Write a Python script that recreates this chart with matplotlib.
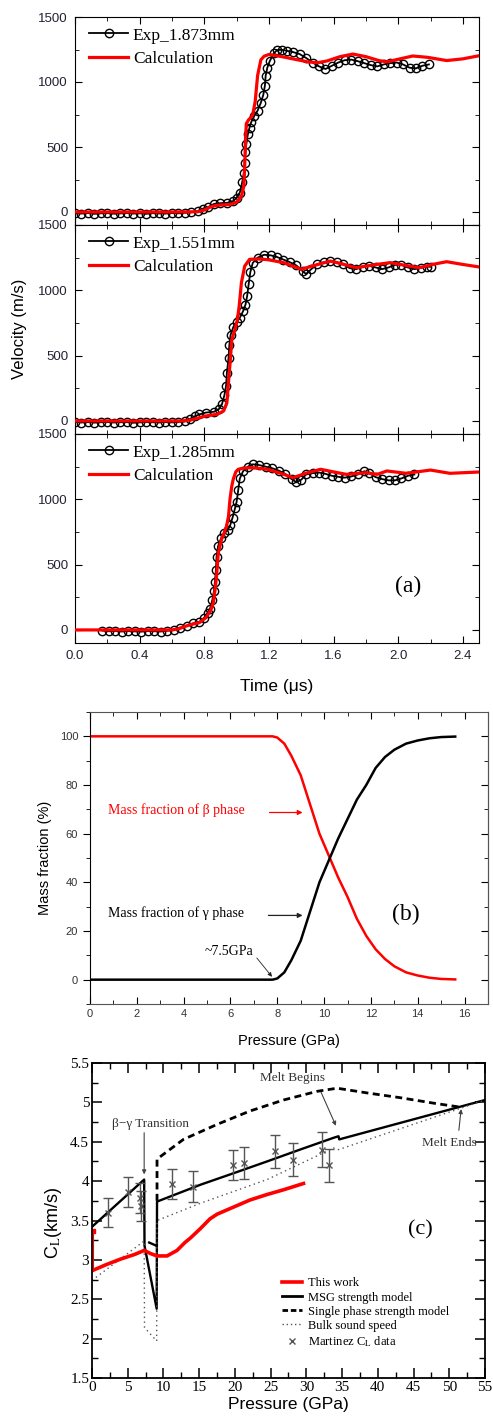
import numpy as np
import matplotlib
matplotlib.use('Agg')
import matplotlib.pyplot as plt
from matplotlib.ticker import MultipleLocator
from matplotlib.lines import Line2D

SANS = 'Liberation Sans'
SERIF = 'Liberation Serif'
plt.rcParams['font.family'] = SANS
plt.rcParams['mathtext.fontset'] = 'stix'

# ---- panel (a): free surface velocity ----
exp_labels = ['Exp_1.873mm', 'Exp_1.551mm', 'Exp_1.285mm']

t_exp1 = [0.00, 0.04, 0.08, 0.12, 0.16, 0.20, 0.24, 0.28, 0.32, 0.36, 0.40, 0.44, 0.48, 0.52, 0.56, 0.60, 0.64, 0.68, 0.72,
          0.76, 0.79, 0.82, 0.86, 0.90, 0.94, 0.98, 1.00, 1.02, 1.035, 1.045, 1.05, 1.055, 1.06, 1.07, 1.08, 1.09, 1.11,
          1.13, 1.15, 1.165, 1.175, 1.18, 1.19, 1.205, 1.23, 1.25, 1.28, 1.31, 1.35, 1.39, 1.43, 1.47, 1.51, 1.55, 1.59,
          1.63, 1.67, 1.71, 1.75, 1.79, 1.83, 1.87, 1.91, 1.95, 1.99, 2.03, 2.07, 2.11, 2.15, 2.19]
v_exp1 = [-10, -12, -8, -14, -10, -9, -13, -11, -8, -12, -10, -14, -9, -11, -12, -8, -10, -6, -2,
          5, 25, 35, 62, 68, 70, 85, 110, 150, 230, 300, 380, 460, 520, 600, 650, 690, 740,
          780, 840, 900, 970, 1050, 1110, 1160, 1220, 1245, 1248, 1240, 1230, 1215, 1185, 1150, 1120, 1100, 1125,
          1150, 1168, 1172, 1160, 1145, 1130, 1120, 1135, 1145, 1150, 1135, 1110, 1105, 1125, 1135]

t_exp2 = [0.00, 0.04, 0.08, 0.12, 0.16, 0.20, 0.24, 0.28, 0.32, 0.36, 0.40, 0.44, 0.48, 0.52, 0.56, 0.60, 0.64, 0.68,
          0.71, 0.74, 0.77, 0.81, 0.86, 0.89, 0.91, 0.925, 0.935, 0.94, 0.95, 0.955, 0.963, 0.98, 1.00,
          1.02, 1.04, 1.055, 1.065, 1.075, 1.085, 1.10, 1.13, 1.17, 1.21, 1.25, 1.29, 1.33, 1.37, 1.41,
          1.43, 1.46, 1.50, 1.54, 1.58, 1.62, 1.66, 1.70, 1.74, 1.78, 1.82, 1.86, 1.90, 1.94, 1.98,
          2.02, 2.06, 2.10, 2.14, 2.18, 2.20]
v_exp2 = [-8, -12, -9, -13, -10, -8, -12, -10, -9, -14, -11, -8, -10, -12, -9, -11, -8, -4,
          13, 35, 50, 64, 70, 90, 130, 200, 270, 370, 480, 580, 660, 720, 755,
          790, 840, 890, 955, 1050, 1140, 1210, 1250, 1272, 1268, 1255, 1235, 1215, 1190, 1145,
          1125, 1160, 1200, 1215, 1222, 1215, 1198, 1170, 1162, 1180, 1188, 1175, 1162, 1175, 1195,
          1195, 1175, 1162, 1172, 1182, 1180]

t_exp3 = [0.17, 0.21, 0.25, 0.29, 0.33, 0.37, 0.41, 0.45, 0.49, 0.53, 0.57, 0.61,
          0.65, 0.69, 0.73, 0.77, 0.80, 0.82, 0.835, 0.85, 0.86, 0.866, 0.872, 0.876, 0.885, 0.905, 0.925,
          0.945, 0.96, 0.975, 0.99, 1.00, 1.01, 1.02, 1.04, 1.07, 1.10, 1.14, 1.18, 1.22, 1.26, 1.30,
          1.34, 1.37, 1.40, 1.43, 1.47, 1.51, 1.55, 1.59, 1.63, 1.67, 1.71, 1.75, 1.79, 1.82, 1.86,
          1.90, 1.94, 1.98, 2.02, 2.06, 2.10]
v_exp3 = [-5, -10, -8, -12, -9, -11, -13, -8, -10, -12, -6, 0,
          18, 31, 50, 62, 95, 130, 160, 230, 300, 370, 460, 560, 640, 705, 740,
          765, 800, 860, 930, 980, 1070, 1160, 1215, 1250, 1268, 1262, 1250, 1238, 1220, 1195,
          1155, 1130, 1150, 1190, 1200, 1205, 1195, 1180, 1172, 1166, 1175, 1190, 1215, 1200, 1170,
          1155, 1145, 1145, 1160, 1180, 1190]

t_calc1 = [0.0, 0.60, 0.76, 0.80, 0.84, 0.88, 0.96, 1.00, 1.03, 1.045, 1.05, 1.055, 1.06, 1.075, 1.09, 1.10, 1.115,
           1.13, 1.15, 1.17, 1.20, 1.28, 1.36, 1.44, 1.50, 1.56, 1.64, 1.72, 1.80, 1.88, 1.93, 2.00, 2.09, 2.18,
           2.30, 2.40, 2.50]
v_calc1 = [0, 0, 2, 15, 40, 52, 58, 75, 120, 200, 350, 550, 680, 710, 730, 750, 850,
           1050, 1170, 1198, 1212, 1195, 1175, 1155, 1148, 1162, 1195, 1215, 1195, 1165, 1155, 1175, 1200, 1190,
           1165, 1178, 1202]

t_calc2 = [0.0, 0.66, 0.72, 0.77, 0.81, 0.88, 0.92, 0.94, 0.95, 0.96, 0.97, 0.99, 1.005, 1.016, 1.03, 1.05, 1.08,
           1.13, 1.19, 1.29, 1.40, 1.48, 1.58, 1.66, 1.74, 1.85, 1.95, 2.04, 2.13, 2.22, 2.30, 2.40, 2.50]
v_calc2 = [0, 0, 8, 25, 38, 51, 77, 140, 300, 450, 620, 700, 775, 880, 1060, 1185, 1237,
           1240, 1235, 1212, 1161, 1190, 1224, 1200, 1173, 1195, 1212, 1192, 1173, 1200, 1219, 1198, 1179]

t_calc3 = [0.0, 0.60, 0.65, 0.69, 0.73, 0.77, 0.81, 0.84, 0.856, 0.866, 0.876, 0.887, 0.907, 0.925, 0.938, 0.95,
           0.959, 0.97, 0.979, 0.995, 1.01, 1.05, 1.10, 1.19, 1.27, 1.35, 1.43, 1.52, 1.60, 1.68, 1.80, 1.87,
           1.93, 2.05, 2.20, 2.32, 2.50]
v_calc3 = [0, 0, 12, 31, 45, 56, 94, 150, 209, 300, 413, 592, 694, 750, 796, 870,
           1000, 1100, 1153, 1210, 1230, 1240, 1242, 1230, 1200, 1166, 1200, 1230, 1210, 1191, 1204, 1191,
           1217, 1199, 1224, 1199, 1209]

# ---- panel (b): mass fractions ----
p_mass = [0, 7.8, 8.0, 8.3, 8.6, 9.0, 9.4, 9.8, 10.2, 10.6, 11.0, 11.4, 11.8, 12.2, 12.6, 13.0, 13.5, 14.0, 14.5, 15.0, 15.6]
beta_frac = [100, 100, 99.5, 97, 92, 84, 72, 60, 51, 42, 34, 25, 18, 12.5, 8.5, 5.5, 3, 1.7, 0.8, 0.3, 0.1]
gamma_frac = [0, 0, 0.5, 3, 8, 16, 28, 40, 49, 58, 66, 74, 80, 87, 91.5, 94.5, 97, 98.3, 99.2, 99.7, 99.9]

# ---- panel (c): longitudinal sound speed ----
p_work = [0.2, 2, 4, 6, 7.3, 8.2, 9.1, 10.5, 11.9, 13.0, 13.8, 15.2, 16.5, 17.5, 19.8, 22.1, 24.5, 26.8, 29.6]
cl_work = [2.87, 2.94, 3.01, 3.07, 3.12, 3.08, 3.05, 3.05, 3.12, 3.22, 3.28, 3.40, 3.52, 3.58, 3.67, 3.76, 3.83, 3.89, 3.97]
p_work_start = [0.2, 0.2]
cl_work_start = [3.37, 2.87]

p_msg = [0, 7.3, 7.35, 9.05, 9.1, 15.2, 19.8, 24.5, 29.1, 33.8, 34.5, 34.6, 55]
cl_msg = [3.42, 4.02, 3.18, 2.38, 3.74, 3.955, 4.10, 4.25, 4.40, 4.55, 4.57, 4.53, 5.03]
p_msg_b = [8.0, 9.0]
cl_msg_b = [3.22, 3.18]

p_single = [9.1, 9.1, 12.8, 17.5, 22.1, 26.8, 31.5, 34.3, 38.5, 43.1, 47.8, 51.5]
cl_single = [3.75, 4.28, 4.53, 4.72, 4.89, 5.03, 5.14, 5.18, 5.12, 5.06, 4.99, 4.94]

p_bulk = [0, 7.3, 7.35, 9.05, 9.1, 15.2, 24.5, 33.8, 34.5, 55]
cl_bulk = [2.74, 3.24, 2.14, 1.97, 3.50, 3.72, 4.02, 4.42, 4.40, 5.03]

p_mart = [2.3, 5.0, 6.7, 6.9, 11.2, 14.2, 19.8, 21.3, 25.6, 28.1, 32.2, 33.2]
cl_mart = [3.60, 3.86, 3.79, 3.69, 3.96, 3.93, 4.21, 4.23, 4.38, 4.27, 4.40, 4.20]
err_mart = [0.18, 0.19, 0.19, 0.19, 0.19, 0.2, 0.19, 0.2, 0.21, 0.21, 0.22, 0.21]

W, H = 493, 1416
fig = plt.figure(figsize=(W / 100, H / 100), dpi=100)


def box(l, t, r, b):
    return [l / W, 1 - b / H, (r - l) / W, (b - t) / H]


# panel (a)
tops = [17, 225, 434]
bots = [225, 434, 643]
exp_t = [t_exp1, t_exp2, t_exp3]
exp_v = [v_exp1, v_exp2, v_exp3]
calc_t = [t_calc1, t_calc2, t_calc3]
calc_v = [v_calc1, v_calc2, v_calc3]
for i in range(3):
    ax = fig.add_axes(box(75, tops[i], 479, bots[i]))
    ax.plot(exp_t[i], exp_v[i], '-o', color='k', mfc='none', ms=6, mew=1.0, lw=1.3,
            label=exp_labels[i], zorder=2)
    ax.plot(calc_t[i], calc_v[i], color='red', lw=2.3, label='Calculation', zorder=3)
    ax.set_xlim(0, 2.5)
    ax.set_ylim(-100, 1500)
    ax.xaxis.set_major_locator(MultipleLocator(0.4))
    ax.xaxis.set_minor_locator(MultipleLocator(0.2))
    ax.yaxis.set_major_locator(MultipleLocator(500))
    ax.yaxis.set_minor_locator(MultipleLocator(250))
    ax.tick_params(which='both', direction='in', top=True, right=True, labelsize=9.5,
                   labelcolor='#222233', pad=5)
    ax.tick_params(which='major', length=5)
    ax.tick_params(which='minor', length=3)
    if i < 2:
        ax.tick_params(labelbottom=False)
    else:
        ax.set_xticklabels(['%.1f' % v for v in ax.get_xticks()])
    ax.legend(loc='upper left', frameon=False, prop={'family': SERIF, 'size': 12.5},
              handlelength=2.2, handletextpad=0.3, labelspacing=0.4, borderaxespad=0.2,
              numpoints=1, bbox_to_anchor=(0.01, 1.0))
    if i == 2:
        ax.text(2.06, 334, '(a)', family=SERIF, fontsize=17, ha='center', va='center')
fig.text(20 / W, 1 - 329 / H, 'Velocity (m/s)', rotation=90, ha='center', va='center', fontsize=12)
fig.text(277 / W, 1 - 686 / H, 'Time (\u03bcs)', ha='center', va='center', fontsize=12.5)

# panel (b)
axb = fig.add_axes(box(90, 712, 488, 1004))
axb.plot(p_mass, beta_frac, color='red', lw=1.8)
axb.plot(p_mass, gamma_frac, color='k', lw=1.8)
axb.set_xlim(0, 17)
axb.set_ylim(-10, 110)
axb.xaxis.set_major_locator(MultipleLocator(2))
axb.xaxis.set_minor_locator(MultipleLocator(1))
axb.yaxis.set_major_locator(MultipleLocator(20))
axb.yaxis.set_minor_locator(MultipleLocator(10))
axb.tick_params(axis='x', which='both', direction='in', top=True, labelsize=8, labelcolor='#333333')
axb.tick_params(axis='y', which='both', direction='out', right=False, labelsize=8, labelcolor='#333333')
axb.tick_params(which='major', length=5)
axb.tick_params(which='minor', length=3)
sec = axb.secondary_yaxis('right')
sec.yaxis.set_major_locator(MultipleLocator(20))
sec.yaxis.set_minor_locator(MultipleLocator(10))
sec.tick_params(which='both', direction='in', labelright=False)
sec.tick_params(which='major', length=5)
sec.tick_params(which='minor', length=3)
for s in ['top', 'bottom', 'right']:
    axb.spines[s].set_color('#555555')
sec.spines['right'].set_color('#555555')
axb.text(0.78, 69.7, 'Mass fraction of \u03b2 phase', color='red', family=SERIF, fontsize=10, va='center')
axb.annotate('', xy=(9.2, 68.7), xytext=(7.55, 68.7),
             arrowprops=dict(arrowstyle='-|>', color='red', lw=0.9, mutation_scale=7))
axb.text(0.78, 27.3, 'Mass fraction of \u03b3 phase', color='k', family=SERIF, fontsize=10, va='center')
axb.annotate('', xy=(9.2, 26.4), xytext=(7.5, 26.4),
             arrowprops=dict(arrowstyle='-|>', color='#222222', lw=0.9, mutation_scale=7))
axb.text(4.9, 11.6, '~7.5GPa', family=SERIF, fontsize=10, va='center')
axb.annotate('', xy=(7.85, 0.3), xytext=(7.05, 9.8),
             arrowprops=dict(arrowstyle='-|>', color='#222222', lw=0.6, mutation_scale=6))
axb.text(13.5, 26.6, '(b)', family=SERIF, fontsize=17, ha='center', va='center')
fig.text(45 / W, 1 - 858 / H, 'Mass fraction (%)', rotation=90, ha='center', va='center', fontsize=10.5)
fig.text(289 / W, 1 - 1041 / H, 'Pressure (GPa)', ha='center', va='center', fontsize=10.5)

# panel (c)
axc = fig.add_axes(box(92, 1063, 485, 1378))
axc.plot(p_msg, cl_msg, color='k', lw=1.7)
axc.plot(p_msg_b, cl_msg_b, color='k', lw=1.7)
axc.plot(p_single, cl_single, color='k', lw=2.0, ls=(0, (2.5, 1.6)))
axc.plot(p_bulk, cl_bulk, color='#555555', lw=1.0, ls=(0, (1, 2.5)))
axc.errorbar(p_mart, cl_mart, yerr=err_mart, fmt='x', color='#555555', ms=5, mew=1, elinewidth=1,
             capsize=3.5, capthick=1)
axc.plot(p_work_start, cl_work_start, color='red', lw=0.8, marker='s', ms=3, markevery=[0])
axc.plot(p_work, cl_work, color='red', lw=2.6)
axc.set_xlim(0, 55)
axc.set_ylim(1.5, 5.5)
axc.xaxis.set_major_locator(MultipleLocator(5))
axc.xaxis.set_minor_locator(MultipleLocator(2.5))
axc.yaxis.set_major_locator(MultipleLocator(0.5))
axc.yaxis.set_minor_locator(MultipleLocator(0.25))
axc.set_yticklabels(['%g' % v for v in axc.get_yticks()])
axc.tick_params(which='both', direction='in', top=True, right=True, labelsize=11, pad=2)
axc.tick_params(which='major', length=7, width=1.1)
axc.tick_params(which='minor', length=4, width=1.0)
for lab in axc.get_xticklabels() + axc.get_yticklabels():
    lab.set_family(SERIF)
for s in axc.spines.values():
    s.set_linewidth(1.3)
axc.text(2.8, 4.72, '\u03b2\u2212\u03b3 Transition', family=SERIF, fontsize=9.5, color='#333333', va='center')
axc.annotate('', xy=(7.3, 4.05), xytext=(7.3, 4.65),
             arrowprops=dict(arrowstyle='-|>', color='#444444', lw=0.8, mutation_scale=6))
axc.text(23.5, 5.31, 'Melt Begins', family=SERIF, fontsize=9.5, color='#333333', va='center')
axc.annotate('', xy=(34.3, 4.67), xytext=(31.9, 5.16),
             arrowprops=dict(arrowstyle='-|>', color='#444444', lw=0.8, mutation_scale=6))
axc.text(46.2, 4.48, 'Melt Ends', family=SERIF, fontsize=9.5, color='#333333', va='center')
axc.annotate('', xy=(51.7, 4.95), xytext=(51.3, 4.61),
             arrowprops=dict(arrowstyle='-|>', color='#444444', lw=0.8, mutation_scale=6))
axc.text(45.9, 3.38, '(c)', family=SERIF, fontsize=16, ha='center', va='center')
handles = [Line2D([], [], color='red', lw=2.6),
           Line2D([], [], color='k', lw=2),
           Line2D([], [], color='k', lw=2, ls=(0, (2, 1))),
           Line2D([], [], color='#555555', lw=1, ls=(0, (1, 2))),
           Line2D([], [], color='#555555', marker='x', ls='none', ms=5)]
labels = ['This work', 'MSG strength model', 'Single phase strength model', 'Bulk sound speed',
          'Martinez C$_\\mathrm{L}$ data']
axc.legend(handles, labels, loc='upper left', bbox_to_anchor=(0.47, 0.335), frameon=False,
           prop={'family': SERIF, 'size': 9}, handlelength=1.6, handletextpad=0.5,
           labelspacing=0.17, borderaxespad=0)
fig.text(53 / W, 1 - 1223 / H, 'C$_\\mathrm{L}$(km/s)', rotation=90, ha='center', va='center', fontsize=13)
fig.text(288 / W, 1 - 1405 / H, 'Pressure (GPa)', ha='center', va='center', fontsize=12.5)

fig.savefig('out.png', dpi=100)
